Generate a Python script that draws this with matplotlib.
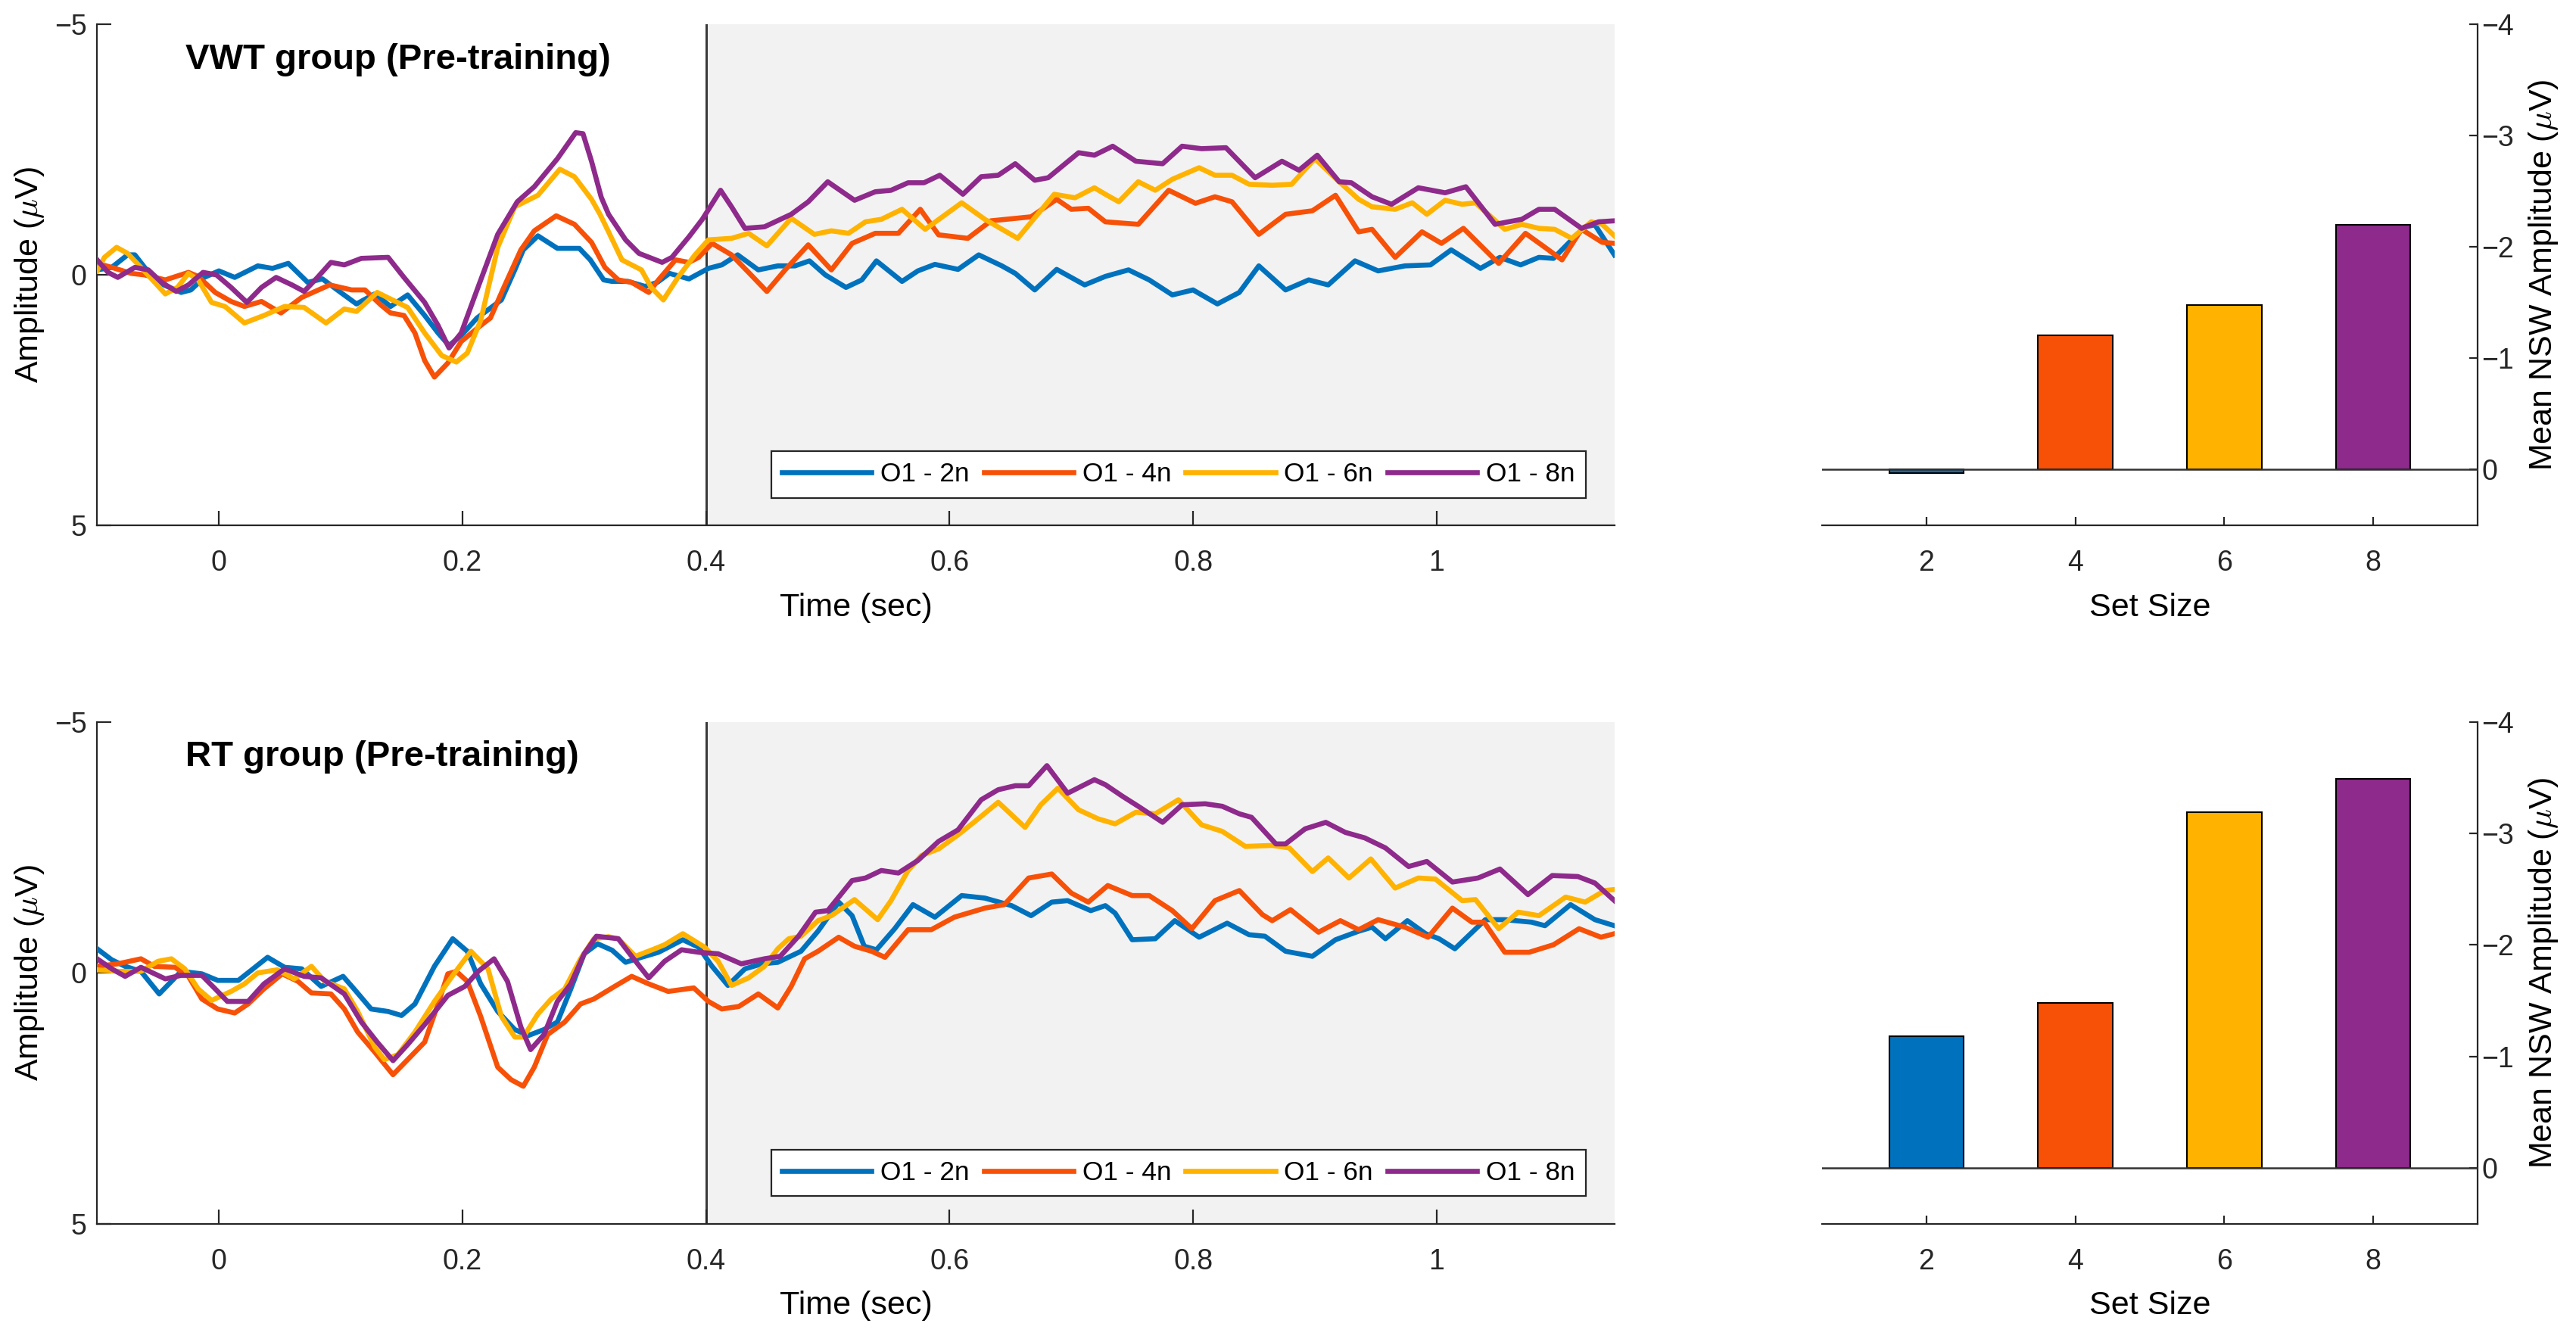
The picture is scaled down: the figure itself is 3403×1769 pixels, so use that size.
import matplotlib
matplotlib.use("Agg")
import matplotlib.pyplot as plt

plt.rcParams['font.family'] = ['Liberation Sans', 'DejaVu Sans']
plt.rcParams['mathtext.fontset'] = 'cm'

# colours of the four set sizes
colors = ['#0072BD', '#F75108', '#FFB300', '#8E2A8B']
labels = ['O1 - 2n', 'O1 - 4n', 'O1 - 6n', 'O1 - 8n']

# ---- VWT group waveforms (time in s, amplitude in uV) ----
vwt_2n_t = [-0.1, -0.088, -0.075, -0.069, -0.061, -0.05, -0.031, -0.023, -0.012, 0.0, 0.013, 0.032, 0.044, 0.057,
            0.073, 0.085, 0.10, 0.113, 0.128, 0.141, 0.155, 0.169, 0.18, 0.189, 0.199, 0.212, 0.232, 0.243, 0.25,
            0.262, 0.278, 0.296, 0.305, 0.316, 0.323, 0.336, 0.35, 0.36, 0.37, 0.386, 0.402, 0.413, 0.426, 0.443,
            0.459, 0.473, 0.485, 0.498, 0.515, 0.528, 0.54, 0.561, 0.574, 0.588, 0.607, 0.624, 0.643, 0.654, 0.67,
            0.688, 0.711, 0.728, 0.747, 0.764, 0.783, 0.80, 0.82, 0.838, 0.854, 0.876, 0.895, 0.911, 0.933, 0.952,
            0.974, 0.995, 1.012, 1.036, 1.052, 1.069, 1.084, 1.096, 1.111, 1.122, 1.13, 1.146]
vwt_2n_v = [-0.10, -0.15, -0.40, -0.40, -0.15, 0.15, 0.35, 0.30, 0.05, -0.08, 0.05, -0.18, -0.13, -0.23,
            0.15, 0.08, 0.35, 0.58, 0.38, 0.63, 0.40, 0.81, 1.16, 1.41, 1.21, 0.86, 0.50, -0.10, -0.50,
            -0.78, -0.53, -0.53, -0.30, 0.10, 0.13, 0.13, 0.23, 0.15, -0.03, 0.08, -0.13, -0.20, -0.40, -0.10,
            -0.18, -0.18, -0.28, 0.0, 0.25, 0.10, -0.28, 0.13, -0.08, -0.21, -0.11, -0.40, -0.18, -0.03, 0.30,
            -0.11, 0.20, 0.03, -0.10, 0.10, 0.40, 0.30, 0.58, 0.35, -0.18, 0.30, 0.10, 0.20, -0.28, -0.08,
            -0.18, -0.20, -0.50, -0.13, -0.35, -0.20, -0.35, -0.33, -0.70, -0.96, -1.0, -0.40]

vwt_4n_t = [-0.1, -0.088, -0.072, -0.061, -0.044, -0.025, -0.017, -0.003, 0.010, 0.021, 0.035, 0.051, 0.068, 0.091,
            0.109, 0.12, 0.133, 0.141, 0.152, 0.161, 0.169, 0.177, 0.188, 0.199, 0.215, 0.223, 0.234, 0.248, 0.259,
            0.277, 0.292, 0.306, 0.317, 0.328, 0.339, 0.353, 0.361, 0.375, 0.386, 0.394, 0.405, 0.421, 0.435, 0.45,
            0.465, 0.484, 0.503, 0.52, 0.539, 0.558, 0.576, 0.591, 0.615, 0.634, 0.667, 0.688, 0.70, 0.714, 0.728,
            0.755, 0.78, 0.802, 0.818, 0.832, 0.854, 0.876, 0.898, 0.917, 0.936, 0.947, 0.966, 0.988, 1.004,
            1.022, 1.051, 1.073, 1.089, 1.103, 1.119, 1.136, 1.146]
vwt_4n_v = [-0.23, -0.15, -0.03, 0.0, 0.10, -0.05, 0.03, 0.35, 0.53, 0.63, 0.53, 0.76, 0.45, 0.20,
            0.30, 0.30, 0.60, 0.76, 0.81, 1.16, 1.71, 2.04, 1.76, 1.33, 1.01, 0.86, 0.25, -0.50, -0.88,
            -1.18, -1.01, -0.65, -0.15, 0.10, 0.15, 0.35, 0.10, -0.30, -0.25, -0.35, -0.63, -0.40, -0.05, 0.33,
            -0.10, -0.60, -0.10, -0.63, -0.83, -0.83, -1.31, -0.80, -0.73, -1.08, -1.16, -1.51, -1.31, -1.33, -1.06,
            -1.01, -1.69, -1.43, -1.56, -1.46, -0.81, -1.21, -1.28, -1.59, -0.86, -0.91, -0.35, -0.86, -0.63,
            -0.93, -0.23, -0.83, -0.55, -0.30, -0.91, -0.65, -0.63]

vwt_6n_t = [-0.1, -0.094, -0.084, -0.075, -0.064, -0.044, -0.034, -0.025, -0.017, -0.006, 0.005, 0.021, 0.037, 0.054,
            0.07, 0.088, 0.103, 0.113, 0.13, 0.155, 0.169, 0.183, 0.195, 0.204, 0.215, 0.229, 0.243, 0.262, 0.28,
            0.292, 0.306, 0.313, 0.32, 0.331, 0.347, 0.355, 0.365, 0.377, 0.391, 0.402, 0.421, 0.435, 0.45, 0.47,
            0.489, 0.503, 0.517, 0.531, 0.544, 0.561, 0.58, 0.61, 0.629, 0.656, 0.686, 0.703, 0.719, 0.728, 0.739,
            0.755, 0.769, 0.783, 0.805, 0.818, 0.832, 0.846, 0.865, 0.881, 0.90, 0.92, 0.936, 0.947, 0.966, 0.98,
            0.992, 1.007, 1.021, 1.032, 1.056, 1.07, 1.084, 1.097, 1.111, 1.127, 1.136, 1.146]
vwt_6n_v = [-0.08, -0.35, -0.55, -0.43, -0.15, 0.38, 0.25, -0.03, 0.10, 0.55, 0.63, 0.96, 0.81, 0.63,
            0.65, 0.96, 0.68, 0.73, 0.35, 0.65, 1.16, 1.61, 1.74, 1.56, 0.91, -0.55, -1.36, -1.59, -2.11,
            -1.96, -1.51, -1.21, -0.86, -0.30, -0.10, 0.25, 0.50, 0.05, -0.40, -0.70, -0.73, -0.83, -0.58, -1.13,
            -0.81, -0.88, -0.83, -1.06, -1.11, -1.31, -0.91, -1.44, -1.11, -0.73, -1.61, -1.54, -1.74, -1.61, -1.46,
            -1.86, -1.69, -1.91, -2.14, -1.99, -1.99, -1.81, -1.79, -1.81, -2.32, -1.86, -1.51, -1.36, -1.31, -1.44,
            -1.21, -1.49, -1.41, -1.44, -0.91, -1.01, -0.93, -0.91, -0.73, -1.06, -1.01, -0.78]

vwt_8n_t = [-0.1, -0.091, -0.083, -0.069, -0.058, -0.047, -0.035, -0.025, -0.013, -0.002, 0.010, 0.023, 0.035, 0.047,
            0.06, 0.07, 0.081, 0.092, 0.103, 0.117, 0.139, 0.152, 0.169, 0.18, 0.189, 0.199, 0.212, 0.229, 0.245,
            0.259, 0.278, 0.293, 0.299, 0.306, 0.314, 0.32, 0.334, 0.345, 0.364, 0.372, 0.386, 0.397, 0.412, 0.421,
            0.432, 0.448, 0.47, 0.484, 0.50, 0.522, 0.539, 0.552, 0.566, 0.579, 0.592, 0.611, 0.626, 0.64, 0.654,
            0.67, 0.681, 0.706, 0.719, 0.734, 0.753, 0.775, 0.791, 0.807, 0.827, 0.851, 0.873, 0.887, 0.902, 0.92,
            0.93, 0.947, 0.963, 0.985, 1.007, 1.024, 1.048, 1.07, 1.084, 1.097, 1.119, 1.133, 1.146]
vwt_8n_v = [-0.30, -0.05, 0.05, -0.15, -0.10, 0.15, 0.33, 0.20, -0.05, 0.0, 0.25, 0.55, 0.25, 0.05,
            0.20, 0.33, 0.05, -0.25, -0.20, -0.33, -0.35, 0.05, 0.55, 1.01, 1.46, 1.16, 0.30, -0.81, -1.46,
            -1.76, -2.32, -2.84, -2.82, -2.27, -1.55, -1.21, -0.70, -0.43, -0.25, -0.35, -0.76, -1.11, -1.69, -1.36,
            -0.93, -0.96, -1.21, -1.46, -1.86, -1.49, -1.66, -1.69, -1.84, -1.84, -1.99, -1.61, -1.96, -1.99, -2.22,
            -1.89, -1.94, -2.44, -2.39, -2.57, -2.27, -2.22, -2.57, -2.52, -2.54, -1.94, -2.27, -2.09, -2.39, -1.86,
            -1.84, -1.56, -1.41, -1.74, -1.64, -1.76, -1.01, -1.11, -1.31, -1.31, -0.93, -1.06, -1.08]

# ---- RT group waveforms ----
rt_2n_t = [-0.1, -0.088, -0.077, -0.064, -0.049, -0.039, -0.031, -0.014, -0.001, 0.016, 0.027, 0.04, 0.054, 0.068,
           0.084, 0.102, 0.111, 0.125, 0.139, 0.15, 0.161, 0.177, 0.192, 0.204, 0.215, 0.229, 0.243, 0.254, 0.267,
           0.278, 0.289, 0.30, 0.311, 0.323, 0.334, 0.347, 0.361, 0.381, 0.394, 0.405, 0.418, 0.432, 0.446, 0.459,
           0.478, 0.492, 0.509, 0.52, 0.53, 0.54, 0.555, 0.57, 0.588, 0.61, 0.629, 0.651, 0.667, 0.684, 0.697,
           0.716, 0.728, 0.736, 0.75, 0.769, 0.785, 0.805, 0.828, 0.846, 0.859, 0.876, 0.898, 0.917, 0.936, 0.947,
           0.958, 0.976, 0.991, 1.002, 1.015, 1.04, 1.056, 1.078, 1.089, 1.11, 1.13, 1.146]
rt_2n_v = [-0.48, -0.26, -0.13, -0.03, 0.42, 0.17, -0.03, 0.02, 0.15, 0.15, -0.06, -0.31, -0.11, -0.08,
           0.27, 0.07, 0.32, 0.72, 0.77, 0.85, 0.62, -0.13, -0.68, -0.43, 0.22, 0.77, 1.13, 1.25, 1.13,
           0.98, 0.32, -0.38, -0.58, -0.45, -0.21, -0.31, -0.41, -0.66, -0.51, -0.13, 0.25, -0.08, -0.18, -0.21,
           -0.43, -0.83, -1.41, -1.14, -0.53, -0.46, -0.88, -1.36, -1.11, -1.54, -1.49, -1.34, -1.14, -1.41, -1.44,
           -1.24, -1.34, -1.19, -0.66, -0.68, -1.04, -0.71, -0.99, -0.76, -0.73, -0.43, -0.33, -0.66, -0.83, -0.91,
           -0.68, -1.04, -0.78, -0.68, -0.48, -1.06, -1.06, -1.01, -0.94, -1.36, -1.06, -0.94]

rt_4n_t = [-0.1, -0.083, -0.064, -0.053, -0.036, -0.025, -0.014, -0.001, 0.013, 0.024, 0.037, 0.052, 0.065, 0.076,
           0.092, 0.103, 0.114, 0.128, 0.143, 0.155, 0.169, 0.18, 0.188, 0.195, 0.204, 0.215, 0.229, 0.24, 0.25,
           0.259, 0.27, 0.284, 0.297, 0.308, 0.325, 0.339, 0.353, 0.369, 0.39, 0.402, 0.413, 0.427, 0.443, 0.459,
           0.47, 0.481, 0.492, 0.509, 0.522, 0.536, 0.547, 0.566, 0.585, 0.604, 0.629, 0.645, 0.665, 0.684, 0.70,
           0.714, 0.73, 0.75, 0.764, 0.783, 0.799, 0.818, 0.838, 0.857, 0.865, 0.88, 0.903, 0.921, 0.936, 0.952,
           0.974, 0.993, 1.013, 1.029, 1.039, 1.056, 1.076, 1.096, 1.117, 1.135, 1.146]
rt_4n_v = [-0.13, -0.18, -0.28, -0.13, -0.11, 0.07, 0.52, 0.72, 0.80, 0.62, 0.32, 0.02, 0.17, 0.40,
           0.42, 0.72, 1.18, 1.58, 2.03, 1.73, 1.38, 0.62, 0.02, -0.03, 0.17, 0.87, 1.88, 2.13, 2.26,
           1.88, 1.23, 0.98, 0.62, 0.52, 0.27, 0.07, 0.22, 0.37, 0.30, 0.57, 0.72, 0.67, 0.42, 0.70,
           0.27, -0.28, -0.43, -0.71, -0.53, -0.43, -0.31, -0.86, -0.86, -1.11, -1.29, -1.36, -1.89, -1.97, -1.59,
           -1.41, -1.74, -1.54, -1.54, -1.24, -0.88, -1.44, -1.64, -1.16, -1.04, -1.26, -0.81, -1.04, -0.86, -1.06,
           -0.91, -0.71, -1.29, -1.01, -1.01, -0.41, -0.41, -0.56, -0.88, -0.71, -0.78]

rt_6n_t = [-0.1, -0.083, -0.064, -0.05, -0.039, -0.028, -0.017, -0.006, 0.01, 0.021, 0.032, 0.048, 0.062, 0.076,
           0.087, 0.103, 0.114, 0.128, 0.136, 0.147, 0.161, 0.177, 0.193, 0.207, 0.221, 0.232, 0.243, 0.25, 0.262,
           0.273, 0.284, 0.297, 0.308, 0.32, 0.328, 0.342, 0.358, 0.366, 0.381, 0.399, 0.41, 0.421, 0.435, 0.448,
           0.459, 0.468, 0.478, 0.492, 0.503, 0.522, 0.541, 0.552, 0.566, 0.577, 0.591, 0.607, 0.621, 0.64, 0.662,
           0.675, 0.689, 0.706, 0.722, 0.736, 0.753, 0.769, 0.788, 0.807, 0.824, 0.843, 0.865, 0.879, 0.898, 0.911,
           0.928, 0.946, 0.966, 0.985, 0.999, 1.021, 1.032, 1.051, 1.067, 1.084, 1.106, 1.122, 1.138, 1.146]
rt_6n_v = [-0.06, -0.03, -0.03, -0.23, -0.28, -0.08, 0.32, 0.55, 0.37, 0.22, 0.0, -0.06, 0.12, -0.13,
           0.17, 0.32, 0.77, 1.48, 1.73, 1.63, 1.18, 0.57, 0.02, -0.43, -0.08, 0.87, 1.28, 1.28, 0.82,
           0.52, 0.32, -0.28, -0.68, -0.72, -0.68, -0.33, -0.48, -0.56, -0.78, -0.51, -0.23, 0.25, 0.10, -0.13,
           -0.48, -0.68, -0.73, -1.04, -1.14, -1.46, -1.06, -1.44, -2.04, -2.34, -2.47, -2.75, -3.02, -3.40, -2.90,
           -3.35, -3.68, -3.25, -3.07, -2.97, -3.20, -3.17, -3.45, -2.95, -2.82, -2.52, -2.54, -2.49, -2.02, -2.29,
           -1.89, -2.27, -1.69, -1.89, -1.87, -1.44, -1.46, -0.88, -1.21, -1.14, -1.51, -1.41, -1.64, -1.66]

rt_8n_t = [-0.1, -0.088, -0.077, -0.064, -0.044, -0.031, -0.014, -0.003, 0.007, 0.024, 0.037, 0.054, 0.07, 0.084,
           0.103, 0.117, 0.13, 0.143, 0.155, 0.169, 0.188, 0.202, 0.213, 0.226, 0.237, 0.248, 0.256, 0.267, 0.278,
           0.289, 0.30, 0.31, 0.328, 0.339, 0.353, 0.366, 0.38, 0.394, 0.41, 0.429, 0.448, 0.461, 0.476, 0.49,
           0.50, 0.52, 0.531, 0.544, 0.558, 0.574, 0.591, 0.607, 0.626, 0.64, 0.654, 0.665, 0.68, 0.697, 0.719,
           0.728, 0.742, 0.755, 0.775, 0.791, 0.81, 0.824, 0.838, 0.848, 0.868, 0.876, 0.892, 0.909, 0.925, 0.941,
           0.958, 0.977, 0.992, 1.013, 1.034, 1.052, 1.075, 1.095, 1.116, 1.13, 1.146]
rt_8n_v = [-0.28, -0.08, 0.07, -0.11, 0.12, 0.05, 0.05, 0.32, 0.57, 0.57, 0.22, -0.08, 0.07, 0.10,
           0.42, 0.98, 1.38, 1.75, 1.43, 1.03, 0.45, 0.27, -0.03, -0.28, 0.17, 1.08, 1.53, 1.23, 0.57,
           0.22, -0.38, -0.73, -0.68, -0.33, 0.10, -0.23, -0.46, -0.41, -0.38, -0.18, -0.28, -0.33, -0.73, -1.21,
           -1.24, -1.84, -1.89, -2.04, -1.99, -2.24, -2.62, -2.85, -3.45, -3.65, -3.73, -3.73, -4.13, -3.58, -3.85,
           -3.75, -3.52, -3.32, -3.0, -3.35, -3.37, -3.32, -3.17, -3.10, -2.57, -2.57, -2.87, -3.0, -2.80, -2.69,
           -2.49, -2.12, -2.22, -1.81, -1.89, -2.07, -1.56, -1.94, -1.92, -1.79, -1.44]

# ---- mean NSW amplitude per set size ----
set_sizes = [2, 4, 6, 8]
vwt_nsw = [0.03, -1.21, -1.48, -2.20]
rt_nsw = [-1.18, -1.48, -3.19, -3.49]

titles = ['VWT group (Pre-training)', 'RT group (Pre-training)']
waves = [
    [(vwt_2n_t, vwt_2n_v), (vwt_4n_t, vwt_4n_v), (vwt_6n_t, vwt_6n_v), (vwt_8n_t, vwt_8n_v)],
    [(rt_2n_t, rt_2n_v), (rt_4n_t, rt_4n_v), (rt_6n_t, rt_6n_v), (rt_8n_t, rt_8n_v)],
]
bars = [vwt_nsw, rt_nsw]

axc = '#262626'
fig = plt.figure(figsize=(34.03, 17.69), dpi=100)

rows = [(0.6077, 0.3740), (0.0861, 0.3747)]
for r, (bottom, height) in enumerate(rows):
    # waveform panel
    ax = fig.add_axes([0.0377, bottom, 0.5890, height])
    ax.axvspan(0.4, 1.146, color='#f2f2f2', zorder=0, lw=0)
    ax.axvline(0.4, color='#3a3a3a', lw=2.2, zorder=1)
    for (t, v), c, lab in zip(waves[r], colors, labels):
        ax.plot(t, v, color=c, lw=4.8, label=lab, zorder=3, solid_joinstyle='round')
    ax.set_xlim(-0.1, 1.146)
    ax.set_ylim(5, -5)
    ax.set_xticks([0, 0.2, 0.4, 0.6, 0.8, 1])
    ax.set_xticklabels(['0', '0.2', '0.4', '0.6', '0.8', '1'])
    ax.set_yticks([-5, 0, 5])
    for s in ['top', 'right']:
        ax.spines[s].set_visible(False)
    for s in ['left', 'bottom']:
        ax.spines[s].set_color(axc)
        ax.spines[s].set_linewidth(1.6)
    ax.tick_params(axis='both', direction='in', length=14, width=1.6, colors=axc, labelsize=27)
    ax.tick_params(axis='x', pad=23)
    ax.tick_params(axis='y', pad=10)
    ax.set_xlabel('Time (sec)', fontsize=31, labelpad=15)
    ax.set_ylabel(r'Amplitude ($\mu$V)', fontsize=31, labelpad=8)
    ax.text(0.058, 0.93, titles[r], transform=ax.transAxes, fontsize=34, fontweight='bold',
            va='center', ha='left')
    leg = ax.legend(loc='lower right', bbox_to_anchor=(0.981, 0.055), ncol=4, fontsize=25.4,
                    handlelength=3.35, handletextpad=0.33, columnspacing=0.55, borderpad=0.4,
                    borderaxespad=0, fancybox=False, framealpha=1, edgecolor='#262626')
    leg.get_frame().set_linewidth(1.6)

    # bar panel
    bx = fig.add_axes([0.7073, bottom, 0.2545, height])
    bx.bar(set_sizes, bars[r], width=1.0, color=colors, edgecolor='black', linewidth=1.5, zorder=3)
    bx.axhline(0, color='#333333', lw=1.8, zorder=4)
    bx.set_xlim(0.6, 9.4)
    bx.set_ylim(0.5, -4)
    bx.set_xticks(set_sizes)
    bx.set_yticks([-4, -3, -2, -1, 0])
    bx.yaxis.tick_right()
    bx.yaxis.set_label_position('right')
    for s in ['top', 'left']:
        bx.spines[s].set_visible(False)
    for s in ['right', 'bottom']:
        bx.spines[s].set_color(axc)
        bx.spines[s].set_linewidth(1.6)
    bx.tick_params(axis='both', direction='in', length=8, width=1.6, colors=axc, labelsize=27)
    bx.tick_params(axis='x', pad=23)
    bx.tick_params(axis='y', pad=4)
    bx.set_xlabel('Set Size', fontsize=31, labelpad=15)
    bx.set_ylabel(r'Mean NSW Amplitude ($\mu$V)', fontsize=31, labelpad=12)

fig.savefig('out.png', dpi=100, facecolor='white')
